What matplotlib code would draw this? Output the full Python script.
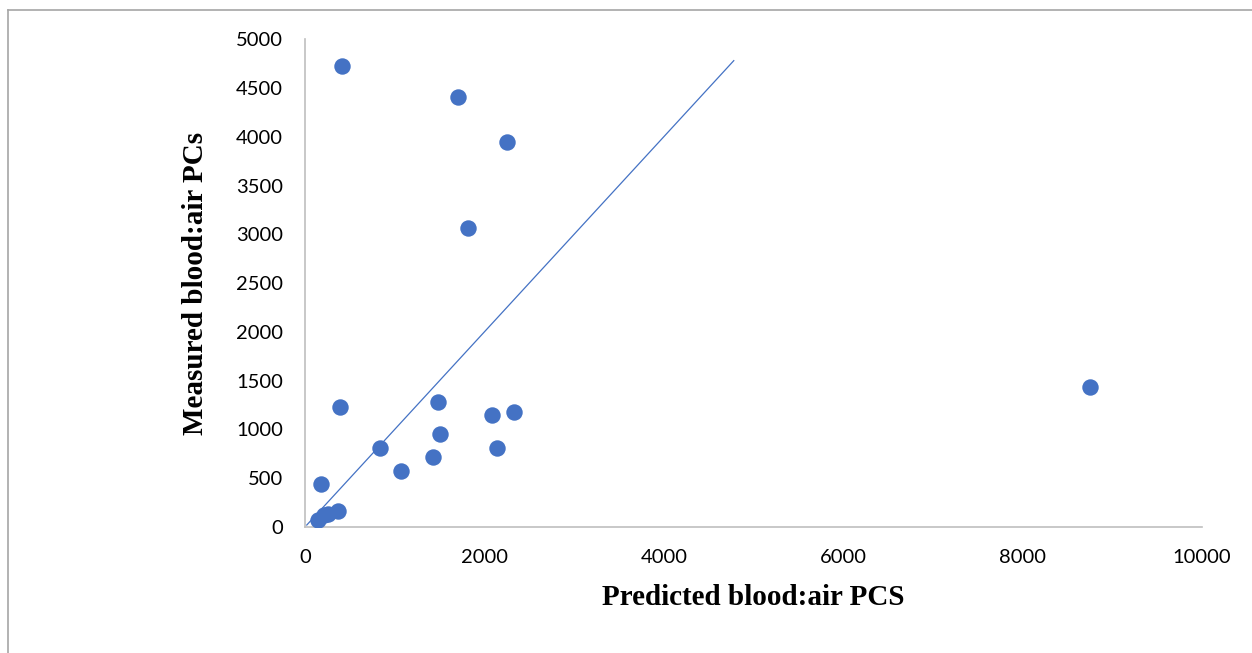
import matplotlib.pyplot as plt
from matplotlib.lines import Line2D

# values
predicted = [412, 1706, 2252, 1817, 390, 1483, 2085, 2330, 1505, 836,
             2140, 1427, 1070, 178, 370, 150, 215, 260, 8751]
measured = [4723, 4406, 3945, 3064, 1230, 1281, 1148, 1178, 953, 809,
            809, 717, 574, 441, 160, 70, 125, 135, 1434]
line_x = [20, 4780]
line_y = [20, 4780]

xticks = [0, 2000, 4000, 6000, 8000, 10000]
yticks = [0, 500, 1000, 1500, 2000, 2500, 3000, 3500, 4000, 4500, 5000]

blue = '#4472C4'
grey = '#BFBFBF'

fig = plt.figure(figsize=(12.52, 6.53), dpi=100)
ax = fig.add_axes([0.2436, 0.193, 0.7165, 0.747])

ax.scatter(predicted, measured, s=140, color=blue, zorder=3, linewidths=0)
ax.plot(line_x, line_y, color=blue, linewidth=0.9, zorder=2)

ax.set_xlim(0, 10000)
ax.set_ylim(0, 5000)
ax.set_xticks(xticks)
ax.set_yticks(yticks)
ax.tick_params(length=0, labelsize=14.5, colors='black')
ax.tick_params(axis='x', pad=16)
ax.tick_params(axis='y', pad=16)
for lab in ax.get_xticklabels() + ax.get_yticklabels():
    lab.set_family('Lato')

for side in ['top', 'right']:
    ax.spines[side].set_visible(False)
for side in ['left', 'bottom']:
    ax.spines[side].set_color(grey)
    ax.spines[side].set_linewidth(1.2)

ax.set_xlabel('Predicted blood:air PCS', family='Liberation Serif',
              fontweight='bold', fontsize=21, va='center')
ax.xaxis.set_label_coords(0.5, -0.1455)
ax.set_ylabel('Measured blood:air PCs', family='Liberation Serif',
              fontweight='bold', fontsize=21, va='center')
ax.yaxis.set_label_coords(-0.1226, 0.5)

# outer frame (top and left edges only visible)
fig.add_artist(Line2D([0.0064, 1.0], [0.9847, 0.9847], color='#A6A6A6',
                      linewidth=1.2, transform=fig.transFigure))
fig.add_artist(Line2D([0.0064, 0.0064], [0.0, 0.9847], color='#A6A6A6',
                      linewidth=1.2, transform=fig.transFigure))

fig.savefig('out.png', dpi=100)
